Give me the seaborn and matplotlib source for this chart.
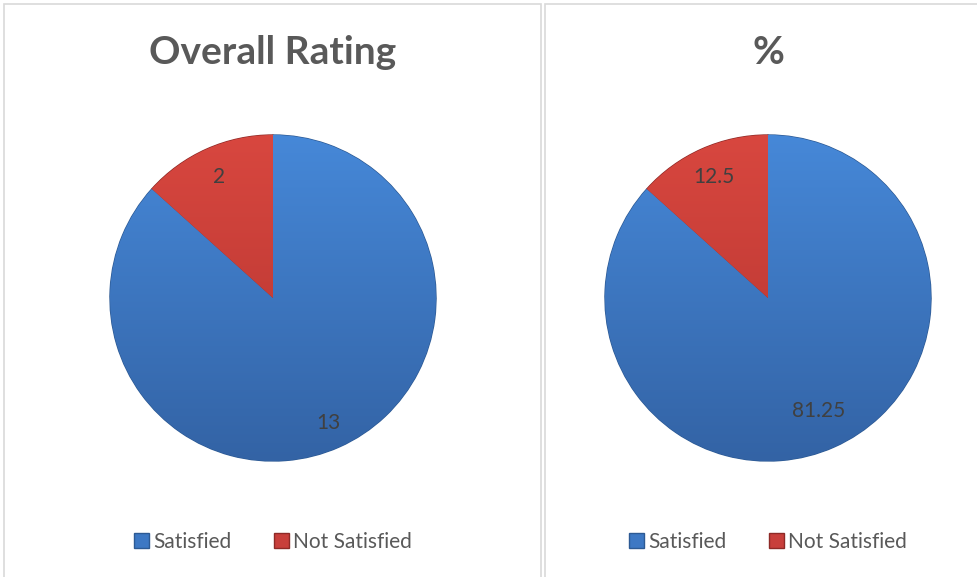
import matplotlib.pyplot as plt
import seaborn as sns
import numpy as np
from matplotlib.patches import Rectangle, Patch
from matplotlib.colors import LinearSegmentedColormap

# data
categories = ['Satisfied', 'Not Satisfied']
overall_counts = [13, 2]
percent_values = [81.25, 12.5]
titles = ['Overall Rating', '%']

sns.set_theme(style="white")
plt.rcParams['font.family'] = ['Lato', 'DejaVu Sans']

colors = ['#3d78c4', '#c83f3b']
edges = ['#2d5a94', '#8e2a27']
# top -> bottom shading, like the Excel bevel look
shades = [('#4688d8', '#3363a5'), ('#d8473f', '#b2332f')]
text_gray = '#595959'

fig = plt.figure(figsize=(9.78, 5.77), dpi=100)

# panel frames
for x0, w in [(4, 537), (545, 440)]:
    fig.add_artist(Rectangle((x0 / 978, -0.01), w / 978, (577 - 4) / 577 + 0.01,
                             transform=fig.transFigure, fill=False,
                             edgecolor='#d9d9d9', linewidth=1.2))

panels = [
    (overall_counts, 110, 273, [0.84, 0.81]),
    (percent_values, 605, 768, [0.76, 0.81]),
]

grad = np.linspace(0, 1, 256).reshape(-1, 1)

for (values, left_px, cx, dists), title in zip(panels, titles):
    ax = fig.add_axes([left_px / 978, (577 - 461) / 577, 326 / 978, 326 / 577])
    wedges, texts = ax.pie(values, colors=colors, startangle=90, counterclock=False,
                           labels=[str(v) for v in values], labeldistance=0.8,
                           wedgeprops=dict(linewidth=1.0),
                           textprops=dict(color='#404040', fontsize=15))
    for wdg, ec, (top, bot) in zip(wedges, edges, shades):
        wdg.set_edgecolor(ec)
        cmap = LinearSegmentedColormap.from_list('s', [top, bot])
        im = ax.imshow(grad, cmap=cmap, extent=[-1, 1, -1, 1], origin='upper',
                       aspect='auto', zorder=wdg.get_zorder() + 0.1)
        im.set_clip_path(wdg)
    # move labels along their wedge's mid angle
    for t, d in zip(texts, dists):
        x, y = t.get_position()
        r = (x ** 2 + y ** 2) ** 0.5
        t.set_position((x / r * d, y / r * d))
        t.set_ha('center')
        t.set_va('center')
        t.set_zorder(5)
    ax.set_xlim(-1.0, 1.0)
    ax.set_ylim(-1.0, 1.0)
    ax.set_aspect('equal')
    ax.axis('off')

    fig.text(cx / 978, 1 - 52 / 577, title, ha='center', va='center',
             fontsize=28, fontweight='bold', color=text_gray)

    handles = [Patch(facecolor=c, edgecolor=e, label=lab)
               for c, e, lab in zip(colors, edges, categories)]
    fig.legend(handles=handles, loc='center', ncol=2,
               bbox_to_anchor=(cx / 978, 1 - 542 / 577), frameon=False,
               fontsize=15, labelcolor=text_gray, handlelength=0.75,
               handleheight=0.75, handletextpad=0.2, columnspacing=2.0)

fig.savefig('out.png', dpi=100, facecolor='white')
